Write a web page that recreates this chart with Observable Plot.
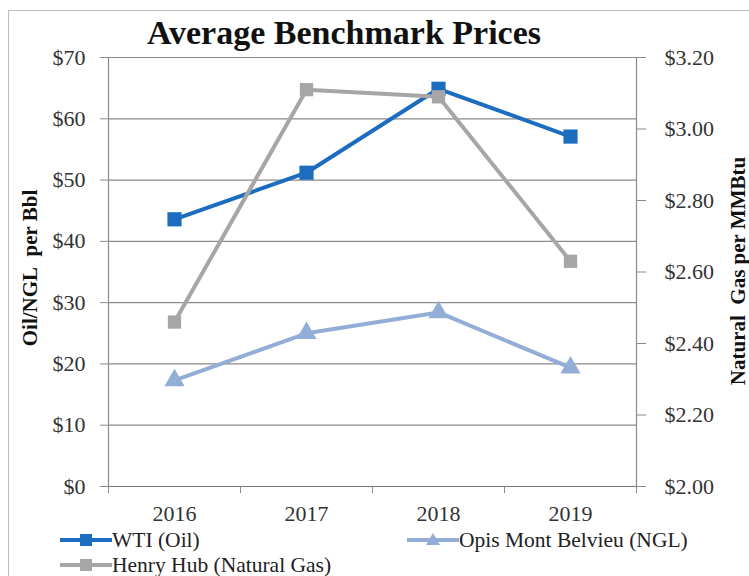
<!DOCTYPE html>
<html>
<head>
<meta charset="utf-8">
<script src="https://cdn.jsdelivr.net/npm/d3@7"></script>
<script src="https://cdn.jsdelivr.net/npm/@observablehq/plot@0.6"></script>
<style>
  html, body { margin: 0; padding: 0; background: #fff; }
  #wrap { position: relative; width: 749px; height: 576px; overflow: hidden; font-family: "Liberation Serif", "Times New Roman", serif; }
  #border { position: absolute; left: 8px; top: 10px; width: 745px; height: 575px; border: 1px solid #bdbdbd; box-sizing: border-box; }
  #title { position: absolute; left: 147px; top: 13px; font-weight: bold; font-size: 34px; line-height: 40px; color: #111; white-space: nowrap; font-family: "Liberation Serif", serif; }
  .ylab { position: absolute; font-weight: bold; font-size: 21px; color: #111; white-space: nowrap; transform: translate(-50%, -50%) rotate(-90deg); font-family: "Liberation Serif", serif; }
  .leg { position: absolute; display: flex; align-items: center; font-size: 21.5px; color: #222; white-space: nowrap; font-family: "Liberation Serif", serif; }
  .leg span { font-family: "Liberation Serif", serif; }
  .leg svg { display: block; }
  #chart { position: absolute; left: 0; top: 0; }
  #chart svg text { font-family: "Liberation Serif", "Times New Roman", serif !important; }
</style>
</head>
<body>
<div id="wrap">
  <div id="border"></div>
  <div id="chart"></div>
  <div id="title">Average Benchmark Prices</div>
  <div class="ylab" style="left:30px; top:268px;">Oil/NGL&nbsp; per Bbl</div>
  <div class="ylab" style="left:738px; top:271px;">Natural&nbsp; Gas per MMBtu</div>
  <div id="legend"></div>
</div>
<script>
// ---- data ----
const years = [2016, 2017, 2018, 2019];
const wti = [43.6, 51.2, 64.9, 57.1];          // $/Bbl, left axis
const ngl = [17.3, 25.0, 28.4, 19.4];          // $/Bbl, left axis
const henryHub = [2.46, 3.11, 3.09, 2.63];     // $/MMBtu, right axis
const leftTicks = [0, 10, 20, 30, 40, 50, 60, 70];
const rightTicks = [2.0, 2.2, 2.4, 2.6, 2.8, 3.0, 3.2];
const seriesNames = ["WTI (Oil)", "Opis Mont Belvieu (NGL)", "Henry Hub (Natural Gas)"];
const colors = { wti: "#1c6dbf", ngl: "#93aed6", hh: "#a6a6a6" };

// right axis mapped onto the left scale
const rMin = 2.0, rMax = 3.2, lMin = 0, lMax = 70;
const toLeft = v => lMin + (v - rMin) * (lMax - lMin) / (rMax - rMin);
const fromLeft = d => rMin + (d - lMin) * (rMax - rMin) / (lMax - lMin);

const wtiData = years.map((y, i) => ({ year: y, v: wti[i] }));
const nglData = years.map((y, i) => ({ year: y, v: ngl[i] }));
const hhData = years.map((y, i) => ({ year: y, v: toLeft(henryHub[i]) }));
const bounds = years.map(y => y - 0.5).concat([years[years.length - 1] + 0.5]);

const axisColor = "#8a8a8a";
const textColor = "#333";
const serif = "'Liberation Serif', 'Times New Roman', serif";

const chart = Plot.plot({
  width: 749,
  height: 576,
  marginLeft: 108,
  marginRight: 113,
  marginTop: 57,
  marginBottom: 90,
  style: { fontFamily: serif, fontSize: "22px", background: "transparent", overflow: "visible" },
  x: { type: "linear", domain: [bounds[0], bounds[bounds.length - 1]] },
  y: { domain: [lMin, lMax] },
  marks: [
    Plot.gridY(leftTicks, { stroke: axisColor, strokeOpacity: 1, strokeWidth: 1.2 }),
    Plot.ruleX([bounds[0], bounds[bounds.length - 1]], { stroke: axisColor, strokeWidth: 1.2 }),
    Plot.ruleY([0], { stroke: "#777", strokeWidth: 1.2 }),
    Plot.axisY(leftTicks, { anchor: "left", tickSize: 8, tickPadding: 15, stroke: axisColor, fill: textColor, tickFormat: d => "$" + d, label: null, fontSize: 22, fontFamily: serif }),
    Plot.axisY(rightTicks.map(toLeft), { anchor: "right", tickSize: 9, tickPadding: 19, stroke: axisColor, fill: textColor, tickFormat: d => "$" + fromLeft(d).toFixed(2), label: null, fontSize: 22, fontFamily: serif }),
    Plot.axisX(bounds, { anchor: "bottom", tickSize: 7, stroke: axisColor, tickFormat: () => "", label: null }),
    Plot.axisX(years, { anchor: "bottom", tickSize: 0, tickPadding: 19, fill: textColor, tickFormat: d => String(d), label: null, fontSize: 22, fontFamily: serif }),
    // NGL
    Plot.line(nglData, { x: "year", y: "v", stroke: colors.ngl, strokeWidth: 4 }),
    Plot.dot(nglData, { x: "year", y: "v", symbol: "triangle", fill: colors.ngl, r: 7.5, stroke: null }),
    // WTI
    Plot.line(wtiData, { x: "year", y: "v", stroke: colors.wti, strokeWidth: 4 }),
    Plot.dot(wtiData, { x: "year", y: "v", symbol: "square", fill: colors.wti, r: 8, stroke: null }),
    // Henry Hub (secondary axis, drawn on top)
    Plot.line(hhData, { x: "year", y: "v", stroke: colors.hh, strokeWidth: 4 }),
    Plot.dot(hhData, { x: "year", y: "v", symbol: "square", fill: colors.hh, r: 7.5, stroke: null })
  ]
});
document.getElementById("chart").appendChild(chart);

// ---- legend ----
function swatch(color, shape) {
  const w = 52, h = 20;
  const mark = shape === "square"
    ? `<rect x="${w/2-6}" y="${h/2-6}" width="12" height="12" fill="${color}"/>`
    : `<polygon points="${w/2},${h/2-7} ${w/2+7},${h/2+5} ${w/2-7},${h/2+5}" fill="${color}"/>`;
  return `<svg width="${w}" height="${h}"><line x1="0" x2="${w}" y1="${h/2}" y2="${h/2}" stroke="${color}" stroke-width="4"/>${mark}</svg>`;
}
const legendItems = [
  { name: seriesNames[0], color: colors.wti, shape: "square", left: 60, top: 540 },
  { name: seriesNames[1], color: colors.ngl, shape: "triangle", left: 407, top: 540 },
  { name: seriesNames[2], color: colors.hh, shape: "square", left: 60, top: 565 }
];
const legend = document.getElementById("legend");
legendItems.forEach(it => {
  const d = document.createElement("div");
  d.className = "leg";
  d.style.left = it.left + "px";
  d.style.top = (it.top - 13) + "px";
  d.style.height = "26px";
  d.innerHTML = swatch(it.color, it.shape) + `<span>${it.name}</span>`;
  legend.appendChild(d);
});
</script>
</body>
</html>
